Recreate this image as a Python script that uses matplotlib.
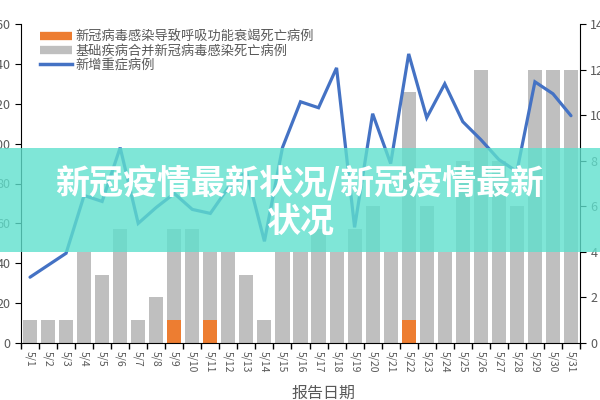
import matplotlib
matplotlib.use("Agg")
import matplotlib.pyplot as plt
from matplotlib.lines import Line2D
from matplotlib.patches import Rectangle

plt.rcParams['font.family'] = ['Noto Sans CJK SC', 'DejaVu Sans']

dates = ['5/%d' % d for d in range(1, 32)]
# deaths (right axis)
resp_deaths = [0, 0, 0, 0, 0, 0, 0, 0, 1, 0, 1, 0, 0, 0, 0, 0,
               0, 0, 0, 0, 0, 1, 0, 0, 0, 0, 0, 0, 0, 0, 0]
total_deaths = [1, 1, 1, 4, 3, 5, 1, 2, 5, 5, 4, 4, 3, 1, 4, 4,
                5, 4, 5, 6, 4, 11, 6, 4, 8, 12, 8, 6, 12, 12, 12]
# new severe cases (left axis)
severe = [33, 39, 45, 74, 71, 98, 60, 68, 75, 67, 65, 78, 86, 51, 98, 121,
          118, 138, 58, 115, 90, 145, 113, 130, 111, 102, 92, 86, 131, 125, 114]
other_deaths = [t - r for t, r in zip(total_deaths, resp_deaths)]

c_orange = '#ED7D31'
c_gray = '#BFBFBF'
c_blue = '#4472C4'
c_text = '#595959'

fig = plt.figure(figsize=(6, 4), dpi=100)
ax = fig.add_axes([21 / 600, 1 - 343 / 400, 559 / 600, 319 / 400])
ax2 = ax.twinx()

x = list(range(len(dates)))
ax2.bar(x, resp_deaths, width=0.78, color=c_orange)
ax2.bar(x, other_deaths, width=0.78, bottom=resp_deaths, color=c_gray)
ax.plot(x, severe, color=c_blue, lw=2.3, solid_capstyle='round', solid_joinstyle='miter')

ax.set_zorder(ax2.get_zorder() + 1)
ax.patch.set_visible(False)

ax.set_xlim(-0.5, len(dates) - 0.5)
ax.set_ylim(0, 160)
ax.set_yticks(range(0, 161, 20))
ax2.set_ylim(0, 14)
ax2.set_yticks(range(0, 15, 2))

ax.set_xticks(x)
ax.set_xticklabels(dates, rotation=270, fontsize=7.5, color=c_text)
ax.set_xticks([i - 0.5 for i in range(len(dates) + 1)], minor=True)
ax.tick_params(axis='x', which='major', length=0, pad=6)
ax.tick_params(axis='x', which='minor', length=4, width=1)
ax.tick_params(axis='y', labelsize=9, labelcolor=c_text, length=4)
ax2.tick_params(axis='y', labelsize=9, labelcolor=c_text, length=4)

for a in (ax, ax2):
    a.spines['top'].set_visible(False)
ax.spines['right'].set_visible(False)
ax2.spines['left'].set_visible(False)
ax2.spines['bottom'].set_visible(False)

ax.set_xlabel('报告日期', fontsize=11.5, color=c_text)
ax.xaxis.set_label_coords((323 - 21) / 559, -0.13)

handles = [Line2D([], [], color=c_orange, lw=6, solid_capstyle='butt'),
           Line2D([], [], color=c_gray, lw=6, solid_capstyle='butt'),
           Line2D([], [], color=c_blue, lw=2.5)]
labels = ['新冠病毒感染导致呼吸功能衰竭死亡病例', '基础疾病合并新冠病毒感染死亡病例', '新增重症病例']
ax.legend(handles, labels, loc='upper left', bbox_to_anchor=(40 / 600, 1 - 31 / 400),
          bbox_transform=fig.transFigure, frameon=False, fontsize=9.5,
          handlelength=2.4, handletextpad=0.3, labelspacing=0.05, borderaxespad=0,
          borderpad=0, labelcolor=c_text)

# overlay banner
fig.patches.append(Rectangle((0, 1 - 252 / 400), 1, 104 / 400, transform=fig.transFigure,
                             facecolor='#5FE0CD', alpha=0.8, edgecolor='none', zorder=10))
fig.text(0.5, 1 - 183 / 400, '新冠疫情最新状况/新冠疫情最新', ha='center', va='center',
         fontsize=24.5, fontweight='bold', color='white', zorder=11)
fig.text(0.5, 1 - 222 / 400, '状况', ha='center', va='center',
         fontsize=24.5, fontweight='bold', color='white', zorder=11)

fig.savefig('out.png', dpi=100)
